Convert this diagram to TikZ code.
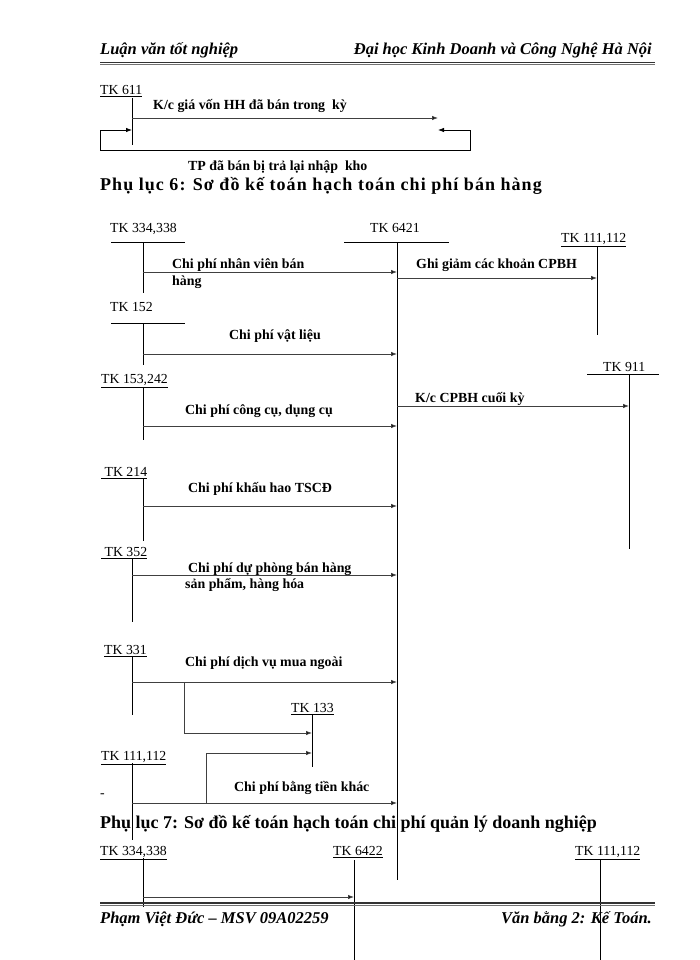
\documentclass[tikz,border=0pt]{standalone}
\usepackage{fontspec}
\setmainfont{Liberation Serif}
\usetikzlibrary{arrows.meta,calc}
\begin{document}
\begin{tikzpicture}[x=1pt,y=-1pt,
  tk/.style={font=\fontsize{13.8}{16}\selectfont, inner sep=0pt, anchor=base west},
  lbl/.style={font=\bfseries\fontsize{13.9}{16}\selectfont, inner sep=0pt, anchor=base west},
  hd/.style={font=\bfseries\fontsize{18}{20}\selectfont, inner sep=0pt, anchor=base west},
  hdr/.style={font=\bfseries\itshape\fontsize{16.5}{20}\selectfont, inner sep=0pt},
  acct/.style={line width=0.8pt},
  flow/.style={line width=0.8pt, draw=black!75, -{Latex[length=6pt,width=4.5pt,fill=black]}},
  rulethick/.style={line width=1.8pt, black!80},
  rulethin/.style={line width=0.8pt, black!55}]
\useasboundingbox (0,0) rectangle (700,960);
\fill[white] (0,0) rectangle (700,960);

% header
\node[hdr, anchor=base west] (h1) at (100,55) {Luận văn tốt nghiệp};
\node[hdr, anchor=base east] (h2) at (652,55) {Đại học Kinh Doanh và Công Nghệ Hà Nội};
\coordinate (hrA) at (100,62.5); \coordinate (hrB) at (655,62.5);
\draw[rulethick] (hrA) -- (hrB);
\draw[rulethin] ($(hrA)+(0,2.4)$) -- ($(hrB)+(0,2.4)$);

% top fragment TK 611
\node[tk] (tk611) at (100,94.5) {\underline{TK 611}};
\coordinate (v611t) at (132,98); \coordinate (v611b) at (132,145);
\draw[acct] (v611t) -- (v611b);
\coordinate (s611) at (132,118); \coordinate (e611) at (438,118);
\draw[flow] (s611) -- (e611);
\node[lbl] (l611) at (153,110) {K/c giá vốn HH đã bán trong\ \ kỳ};
\coordinate (r1) at (438,130); \coordinate (r2) at (470,130);
\coordinate (r3) at (470,150); \coordinate (r4) at (100,150);
\coordinate (r5) at (100,130); \coordinate (r6) at (132,130);
\draw[line width=0.8pt, {Latex[length=6pt,width=4.5pt]}-{Latex[length=6pt,width=4.5pt]}]
  (r1) -- (r2) -- (r3) -- (r4) -- (r5) -- (r6);
\node[lbl] (ltp) at (188,171) {TP đã bán bị trả lại nhập\ \ kho};

% heading 6
\node[hd] (hd6) at (100,190) {\addfontfeature{LetterSpace=5.8}Phụ lục 6: Sơ đồ kế toán hạch toán chi phí bán hàng};

% TK 6421
\node[tk] (tk6421) at (370,232.5) {TK 6421};
\coordinate (t6421a) at (344,242); \coordinate (t6421b) at (449,242);
\draw[acct] (t6421a) -- (t6421b);
\coordinate (v6421t) at (397,242); \coordinate (v6421b) at (397,880);
\draw[acct] (v6421t) -- (v6421b);

% TK 334,338
\node[tk] (tk334) at (110,232.5) {TK 334,338};
\coordinate (t334a) at (111,242); \coordinate (t334b) at (185,242);
\draw[acct] (t334a) -- (t334b);
\coordinate (v334t) at (143,242); \coordinate (v334b) at (143,293);
\draw[acct] (v334t) -- (v334b);
\coordinate (s334) at (143,272);
\draw[flow] (s334) -- (s334 -| v6421t);
\node[lbl] (l334a) at (172,268) {Chi phí nhân viên bán};
\node[lbl] (l334b) at (172,285) {hàng};

% TK 111,112 right
\node[tk] (tk111r) at (561,242.5) {\underline{TK 111,112}};
\coordinate (v111rt) at (597,246); \coordinate (v111rb) at (597,335);
\draw[acct] (v111rt) -- (v111rb);
\coordinate (sgg) at (397,278);
\draw[flow] (sgg) -- (sgg -| v111rt);
\node[lbl] (lgg) at (416,268) {Ghi giảm các khoản CPBH};

% TK 152
\node[tk] (tk152) at (110,311.5) {TK 152};
\coordinate (t152a) at (111,323); \coordinate (t152b) at (185,323);
\draw[acct] (t152a) -- (t152b);
\coordinate (v152t) at (143,323); \coordinate (v152b) at (143,365);
\draw[acct] (v152t) -- (v152b);
\coordinate (s152) at (143,354);
\draw[flow] (s152) -- (s152 -| v6421t);
\node[lbl] (l152) at (229,339) {Chi phí vật liệu};

% TK 153,242
\node[tk] (tk153) at (101,383.5) {\underline{TK 153,242}};
\coordinate (v153t) at (143,387); \coordinate (v153b) at (143,440);
\draw[acct] (v153t) -- (v153b);
\coordinate (s153) at (143,426);
\draw[flow] (s153) -- (s153 -| v6421t);
\node[lbl] (l153) at (185,414) {Chi phí công cụ, dụng cụ};

% TK 911
\node[tk] (tk911) at (603,371.5) {TK 911};
\coordinate (t911a) at (587,374); \coordinate (t911b) at (659,374);
\draw[acct] (t911a) -- (t911b);
\coordinate (v911t) at (629,374); \coordinate (v911b) at (629,549);
\draw[acct] (v911t) -- (v911b);
\coordinate (skc) at (397,406);
\draw[flow] (skc) -- (skc -| v911t);
\node[lbl] (lkc) at (415,402) {K/c CPBH cuối kỳ};

% TK 214
\node[tk] (tk214) at (101,476.5) {\underline{\ TK 214}};
\coordinate (v214t) at (143,479); \coordinate (v214b) at (143,541);
\draw[acct] (v214t) -- (v214b);
\coordinate (s214) at (143,506);
\draw[flow] (s214) -- (s214 -| v6421t);
\node[lbl] (l214) at (188,492) {Chi phí khấu hao TSCĐ};

% TK 352
\node[tk] (tk352) at (101,556.5) {\underline{\ TK 352}};
\coordinate (v352t) at (132,559); \coordinate (v352b) at (132,622);
\draw[acct] (v352t) -- (v352b);
\coordinate (s352) at (132,575);
\draw[flow] (s352) -- (s352 -| v6421t);
\node[lbl] (l352a) at (188,572) {Chi phí dự phòng bán hàng};
\node[lbl] (l352b) at (185,588) {sản phẩm, hàng hóa};

% TK 331
\node[tk] (tk331) at (104,654.5) {\underline{TK 331}};
\coordinate (v331t) at (132,657); \coordinate (v331b) at (132,715);
\draw[acct] (v331t) -- (v331b);
\coordinate (s331) at (132,682);
\draw[flow] (s331) -- (s331 -| v6421t);
\node[lbl] (l331) at (185,666) {Chi phí dịch vụ mua ngoài};

% TK 133
\node[tk] (tk133) at (291,712.5) {\underline{TK 133}};
\coordinate (v133t) at (312,715); \coordinate (v133b) at (312,767);
\draw[acct] (v133t) -- (v133b);
\coordinate (b1s) at (184,682); \coordinate (b1m) at (184,733);
\draw[flow] (b1s) -- (b1m) -- (b1m -| v133t);

% TK 111,112 left
\node[tk] (tk111l) at (101,760.5) {\underline{TK 111,112}};
\coordinate (v111lt) at (132,763); \coordinate (v111lb) at (132,840);
\draw[acct] (v111lt) -- (v111lb);
\node[tk] (dash) at (100,797) {-};
\coordinate (s111l) at (132,803);
\draw[flow] (s111l) -- (s111l -| v6421t);
\coordinate (b2s) at (206,803); \coordinate (b2m) at (206,753);
\draw[flow] (b2s) -- (b2m) -- (b2m -| v133t);
\node[lbl] (l111l) at (234,791) {Chi phí bằng tiền khác};

% heading 7
\node[hd] (hd7) at (100,828) {Phụ lục 7: Sơ đồ kế toán hạch toán chi phí quản lý doanh nghiệp};

% section 7
\node[tk] (tk334b) at (100,855.5) {\underline{TK 334,338}};
\coordinate (v334bt) at (143,858); \coordinate (v334bb) at (143,907);
\draw[acct] (v334bt) -- (v334bb);
\node[tk] (tk6422) at (333,855.5) {\underline{TK 6422}};
\coordinate (v6422t) at (354,860); \coordinate (v6422b) at (354,960);
\draw[acct] (v6422t) -- (v6422b);
\coordinate (s6422) at (143,897);
\draw[flow] (s6422) -- (s6422 -| v6422t);
\node[tk] (tk111c) at (575,855.5) {\underline{TK 111,112}};
\coordinate (v111ct) at (600,859); \coordinate (v111cb) at (600,960);
\draw[acct] (v111ct) -- (v111cb);

% footer
\coordinate (frA) at (100,903); \coordinate (frB) at (655,903);
\draw[rulethick] (frA) -- (frB);
\draw[rulethin] ($(frA)+(0,2.4)$) -- ($(frB)+(0,2.4)$);
\node[hdr, anchor=base west] (f1) at (100,923) {Phạm Việt Đức – MSV 09A02259};
\node[hdr, anchor=base east] (f2) at (652,923) {Văn bằng 2: Kế Toán.};
\end{tikzpicture}
\end{document}
